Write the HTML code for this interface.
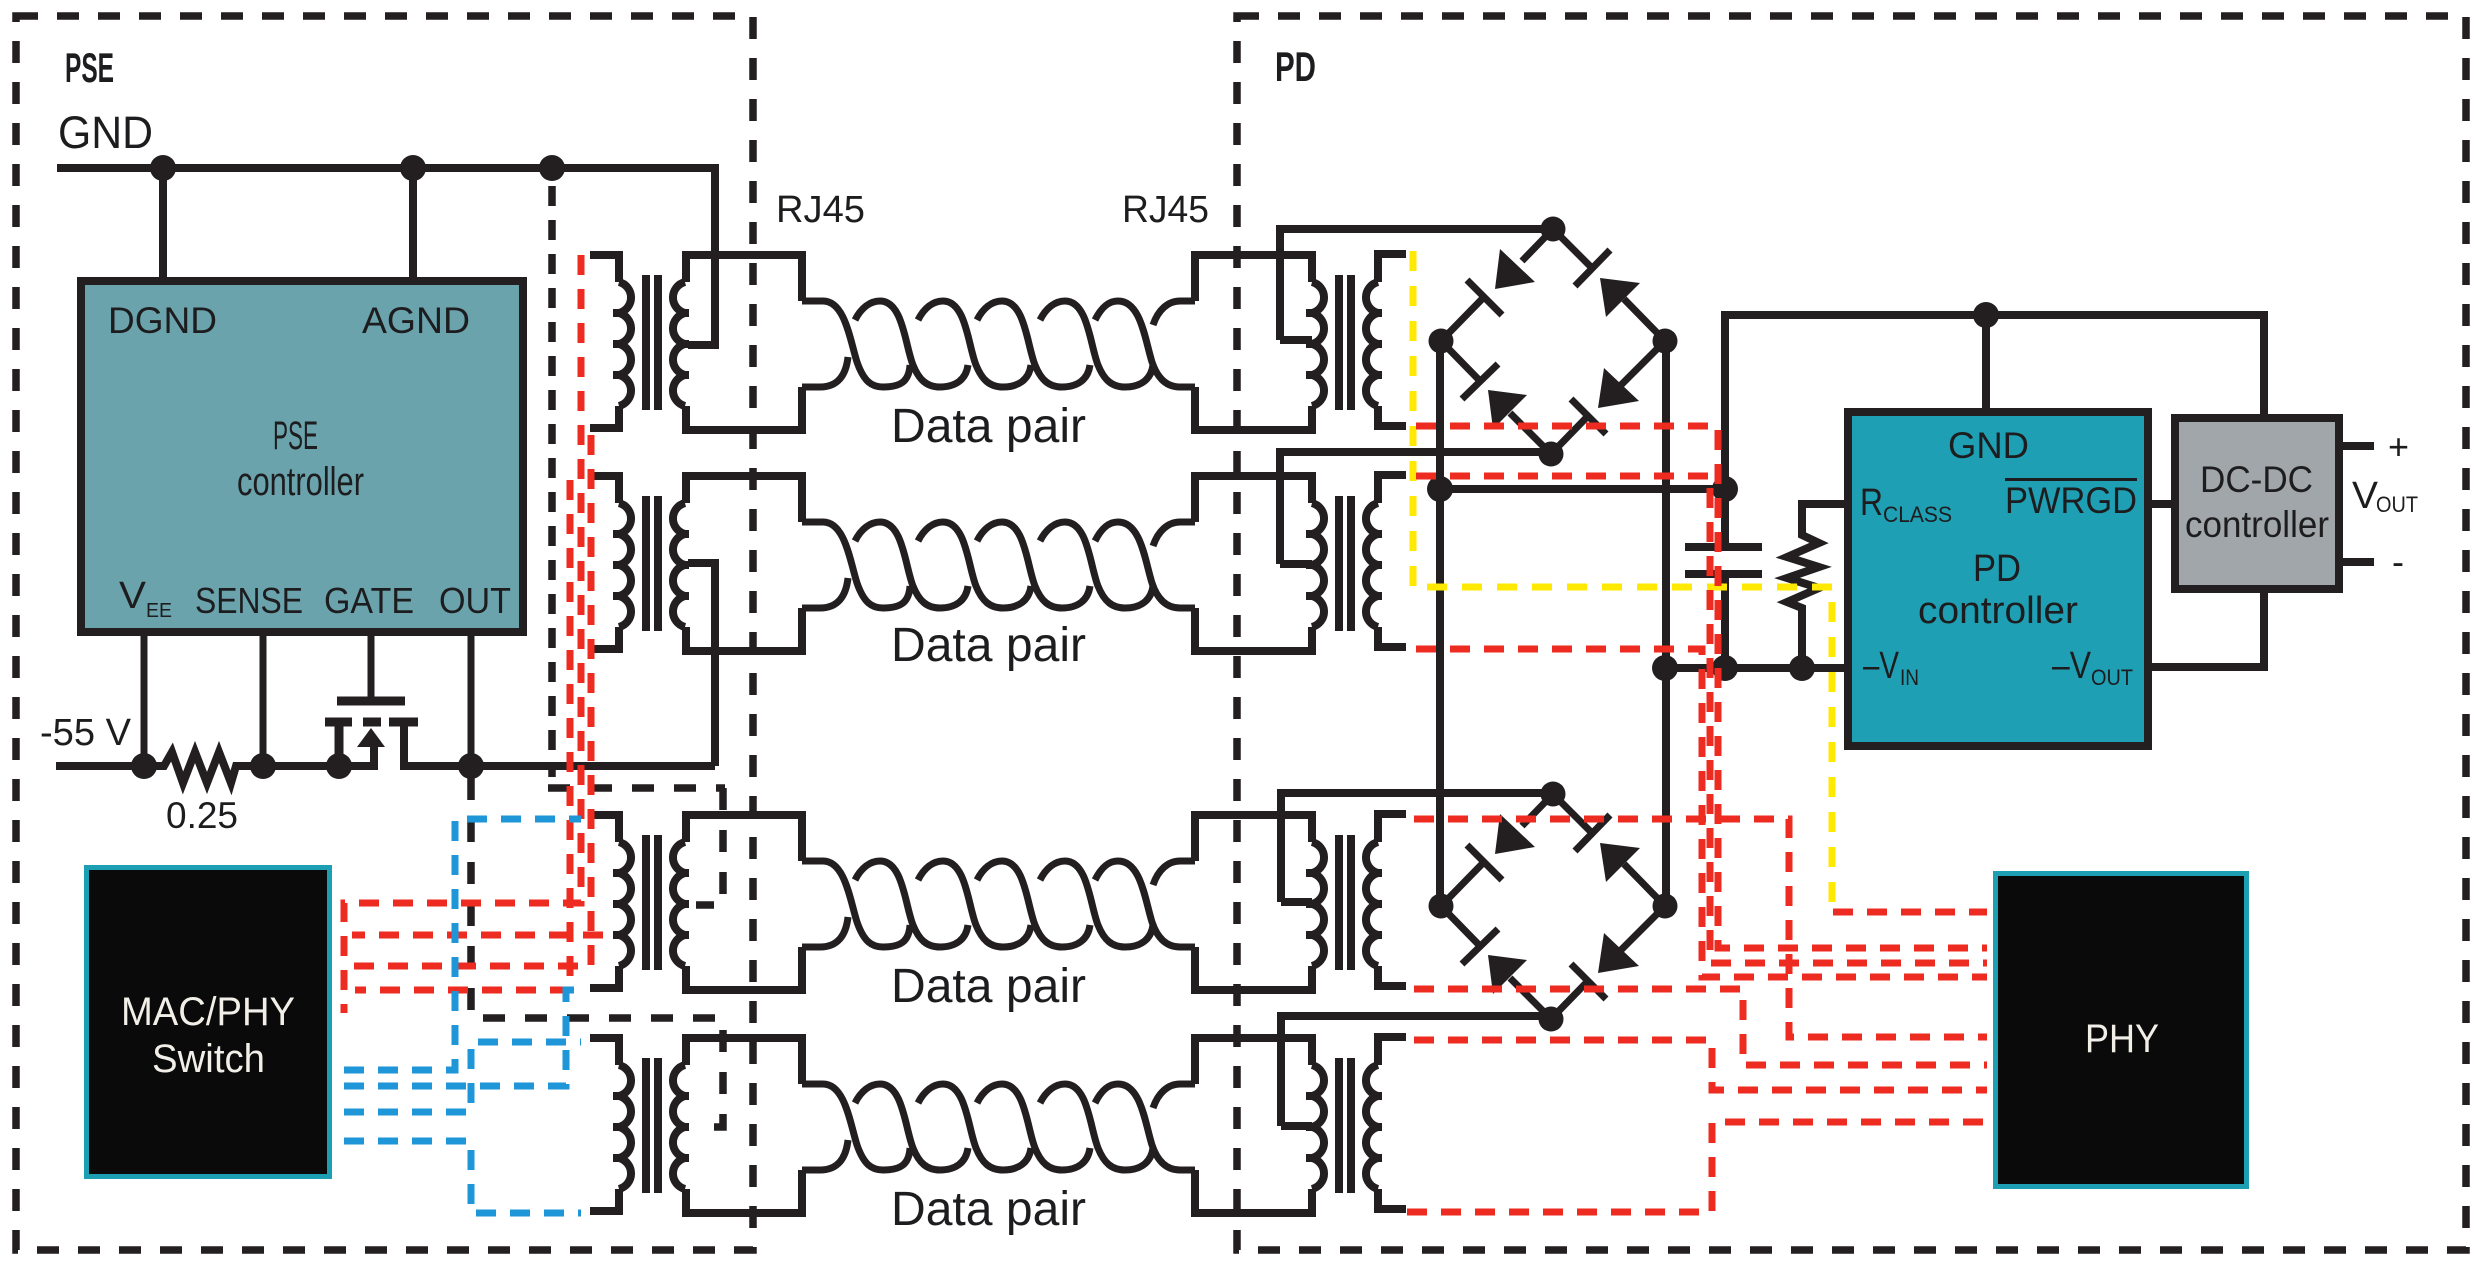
<!DOCTYPE html>
<html><head><meta charset="utf-8"><style>
html,body{margin:0;padding:0;background:#fff;width:2480px;height:1269px;overflow:hidden}
svg{display:block}
text{font-family:"Liberation Sans",sans-serif;fill:#1d1d1f}
.k{fill:none;stroke:#231f20;stroke-width:8}
.t{fill:none;stroke:#231f20;stroke-width:7}
.b{fill:none;stroke:#231f20;stroke-width:7.5;stroke-dasharray:22 19}
.d{fill:none;stroke:#231f20;stroke-width:7.5;stroke-dasharray:22 20}
.d2{fill:none;stroke:#231f20;stroke-width:7.5;stroke-dasharray:20 14}
.r{fill:none;stroke:#ee2b20;stroke-width:7;stroke-dasharray:20 14}
.u{fill:none;stroke:#1e96d8;stroke-width:7;stroke-dasharray:20 14}
.y{fill:none;stroke:#ffe900;stroke-width:7;stroke-dasharray:20 15}
</style></head><body>
<svg xmlns="http://www.w3.org/2000/svg" width="2480" height="1269" viewBox="0 0 2480 1269">
<defs>
<g id="core" class="k">
<path d="M0,5A16,16 0 0 1 0,36A16,16 0 0 1 0,67A16,16 0 0 1 0,98A16,16 0 0 1 0,129"/>
<path d="M66,5A16,16 0 0 0 66,36A16,16 0 0 0 66,67A16,16 0 0 0 66,98A16,16 0 0 0 66,129"/>
<path d="M-6,36H4M-6,67H4M-6,98H4M62,36H70M62,67H70M62,98H70"/>
<path d="M27,-2V133M39,-2V133"/>
</g>
<g id="row" class="k">
<use href="#core" x="619" y="277"/>
<path d="M590,255H619V282M619,406V428H590"/>
<path d="M686,282V255H802V301M686,406V430H802V387"/>
<use href="#core" x="1312" y="277"/>
<path d="M1312,282V255H1195V301M1312,406V430H1195V387"/>
<path d="M1378,282V254H1406M1378,406V426H1406"/>
<g stroke-width="7">
<path d="M802,301H823C845,301 850,340 857,362C864,382 872,387 883,387C900,387 909,382 910,365"/>
<path id="s" d="M855,320C861,308 870,301 880,301C903,301 905,345 913,365C919,380 927,387 940,387C955,387 966,380 968,365"/>
<use href="#s" x="63"/><use href="#s" x="122"/><use href="#s" x="185"/>
<path d="M1095,320C1101,308 1108,301 1118,301C1141,301 1145,340 1152,362C1158,380 1168,387 1180,387H1195"/>
<path d="M802,387H820C838,387 846,375 848,357"/>
<path d="M1153,325C1158,310 1168,301 1180,301H1195"/>
</g>
</g>
<g id="bridge">
<g class="t">
<path d="M1553,229L1522,261M1467,280L1502,315M1484,297L1441,341"/>
<path d="M1553,229L1592,268M1575,286L1610,250M1624,299L1665,341"/>
<path d="M1441,341L1480,381M1462,399L1498,364M1510,413L1551,454"/>
<path d="M1665,341L1620,386M1571,399L1606,434M1586,418L1551,454"/>
</g>
<g fill="#231f20">
<polygon points="1500,249 1535,282 1495,289"/>
<polygon points="1600,278 1640,283 1606,317"/>
<polygon points="1488,390 1527,395 1493,429"/>
<polygon points="1604,368 1639,401 1598,408"/>
<circle cx="1553" cy="229" r="12.500"/><circle cx="1441" cy="341" r="12.500"/><circle cx="1665" cy="341" r="12.500"/><circle cx="1551" cy="454" r="12.500"/>
</g>
</g>
</defs>
<rect width="2480" height="1269" fill="#fff"/>

<rect x="16" y="16" width="737" height="1234" class="b"/>
<rect x="1237" y="16" width="1229" height="1234" class="b"/>

<use href="#row"/>
<use href="#row" y="221"/>
<use href="#row" y="560"/>
<use href="#row" y="783"/>

<g class="k">
<path d="M57,168H715V345H688"/>
<path d="M163,168V281M413,168V281"/>
<path d="M688,563H715V766"/>
<path d="M56,766H164L172,752L183,783L195,752L207,783L219,752L231,783L236,766H374V747"/>
<path d="M404,722V766H715"/>
<path d="M325,722H352M339,722V766M363,722H381M389,722H418M337,701H405" stroke-width="9"/>
</g>
<path d="M144,636V766M263,636V766M371,636V701M471,636V766" class="t"/>
<polygon points="371,728 357,747 385,747" fill="#231f20"/>
<rect x="81" y="281" width="442" height="351" fill="#6ba3ad" stroke="#231f20" stroke-width="8"/>
<g fill="#231f20">
<circle cx="163" cy="168" r="13"/><circle cx="413" cy="168" r="13"/><circle cx="552" cy="168" r="13"/>
<circle cx="144" cy="766" r="13"/><circle cx="263" cy="766" r="13"/><circle cx="339" cy="766" r="13"/><circle cx="471" cy="766" r="13"/>
</g>
<path d="M552,186V777" class="d2"/>
<path d="M548,788H725M723,788V905H696" class="d"/>
<path d="M471,778V1018H723V1127H696" class="d"/>

<rect x="86.500" y="867.500" width="243" height="309" fill="#0a0a0a" stroke="#1d9fb3" stroke-width="5"/>

<g class="r">
<path d="M581,255V903H344V1013"/>
<path d="M591,435V966H350"/>
<path d="M570,480V990H355"/>
<path d="M603,935H352"/>
</g>
<g class="u">
<path d="M344,1070H455V819H581"/>
<path d="M344,1086H566V990H581"/>
<path d="M344,1112H471V1042H581"/>
<path d="M344,1141H471V1213H581"/>
</g>

<g class="k">
<path d="M1280,340V229H1553"/><path d="M1280,340H1312"/>
<path d="M1280,564V452H1551"/><path d="M1280,564H1312"/>
<path d="M1281,902V793H1553"/><path d="M1281,902H1312"/>
<path d="M1281,1126V1016H1551"/><path d="M1281,1126H1312"/>
<path d="M1440,341V907M1666,341V907"/>
<path d="M1440,489H1725"/>
<path d="M1725,547V315H2264V418"/>
<path d="M1725,574V668"/>
<path d="M1665,668H1848"/>
<path d="M1986,315V412"/>
<path d="M1848,504H1802V535L1819,543L1787,557L1819,567L1787,578L1819,588L1787,602L1802,608V668"/>
<path d="M2148,504H2175"/>
<path d="M2148,667H2264V589"/>
<path d="M2339,446H2374M2339,562H2374"/>
<path d="M1685,547H1762M1685,574H1762"/>
</g>
<use href="#bridge"/>
<use href="#bridge" y="565"/>
<g fill="#231f20">
<circle cx="1440" cy="489" r="13"/><circle cx="1725" cy="489" r="13"/>
<circle cx="1665" cy="668" r="13"/><circle cx="1725" cy="668" r="13"/><circle cx="1802" cy="668" r="13"/>
<circle cx="1986" cy="315" r="13"/>
</g>
<rect x="1848" y="412" width="300" height="334" fill="#1f9fb3" stroke="#231f20" stroke-width="8"/>
<rect x="2175" y="418" width="164" height="171" fill="#a0a6aa" stroke="#231f20" stroke-width="8"/>
<rect x="1995.500" y="873.500" width="251" height="313" fill="#0a0a0a" stroke="#1d9fb3" stroke-width="5"/>

<path d="M1413,251V587H1832V905" class="y"/>
<g class="r">
<path d="M1416,426H1718V948H1987"/>
<path d="M1416,476H1710V963H1987"/>
<path d="M1416,649H1702V977H1987"/>
<path d="M1414,819H1789V1037H1987"/>
<path d="M1414,989H1743V1065H1987"/>
<path d="M1414,1040H1712V1090H1987"/>
<path d="M1407,1212H1712V1122H1987"/>
<path d="M1833,912H1987"/>
</g>

<text x="65" y="82" font-size="42" font-weight="bold" textLength="49" lengthAdjust="spacingAndGlyphs">PSE</text>
<text x="1275" y="81" font-size="42" font-weight="bold" textLength="41" lengthAdjust="spacingAndGlyphs">PD</text>
<text x="58" y="148" font-size="45" textLength="95" lengthAdjust="spacingAndGlyphs">GND</text>
<text x="776" y="222" font-size="38" textLength="89" lengthAdjust="spacingAndGlyphs">RJ45</text>
<text x="1122" y="222" font-size="38" textLength="87" lengthAdjust="spacingAndGlyphs">RJ45</text>
<text x="108" y="333" font-size="37" textLength="109" lengthAdjust="spacingAndGlyphs">DGND</text>
<text x="362" y="333" font-size="37" textLength="108" lengthAdjust="spacingAndGlyphs">AGND</text>
<text x="273" y="449" font-size="40" textLength="45" lengthAdjust="spacingAndGlyphs">PSE</text>
<text x="237" y="495" font-size="40" textLength="127" lengthAdjust="spacingAndGlyphs">controller</text>
<text x="119" y="608" font-size="38" textLength="27" lengthAdjust="spacingAndGlyphs">V</text>
<text x="146" y="617" font-size="20" textLength="26" lengthAdjust="spacingAndGlyphs">EE</text>
<text x="195" y="613" font-size="36" textLength="108" lengthAdjust="spacingAndGlyphs">SENSE</text>
<text x="324" y="613" font-size="36" textLength="90" lengthAdjust="spacingAndGlyphs">GATE</text>
<text x="439" y="613" font-size="36" textLength="72" lengthAdjust="spacingAndGlyphs">OUT</text>
<text x="40" y="745" font-size="38" textLength="91" lengthAdjust="spacingAndGlyphs">-55 V</text>
<text x="166" y="828" font-size="37" textLength="72" lengthAdjust="spacingAndGlyphs">0.25</text>
<text x="121" y="1025" font-size="40" textLength="174" lengthAdjust="spacingAndGlyphs" style="fill:#f2efe8">MAC/PHY</text>
<text x="152" y="1072" font-size="40" textLength="113" lengthAdjust="spacingAndGlyphs" style="fill:#f2efe8">Switch</text>
<text x="891" y="442" font-size="48" textLength="195" lengthAdjust="spacingAndGlyphs">Data pair</text>
<text x="891" y="661" font-size="48" textLength="195" lengthAdjust="spacingAndGlyphs">Data pair</text>
<text x="891" y="1002" font-size="48" textLength="195" lengthAdjust="spacingAndGlyphs">Data pair</text>
<text x="891" y="1225" font-size="48" textLength="195" lengthAdjust="spacingAndGlyphs">Data pair</text>

<text x="1948" y="458" font-size="37" textLength="81" lengthAdjust="spacingAndGlyphs">GND</text>
<rect x="2005" y="478" width="132" height="3" fill="#1d1d1f"/>
<text x="2005" y="513" font-size="37" textLength="132" lengthAdjust="spacingAndGlyphs">PWRGD</text>
<text x="1860" y="515" font-size="38" textLength="23" lengthAdjust="spacingAndGlyphs">R</text>
<text x="1883" y="522" font-size="22" textLength="69" lengthAdjust="spacingAndGlyphs">CLASS</text>
<text x="1973" y="581" font-size="38" textLength="48" lengthAdjust="spacingAndGlyphs">PD</text>
<text x="1918" y="623" font-size="38" textLength="160" lengthAdjust="spacingAndGlyphs">controller</text>
<text x="1863" y="678" font-size="38" textLength="36" lengthAdjust="spacingAndGlyphs">–V</text>
<text x="1900" y="685" font-size="22" textLength="19" lengthAdjust="spacingAndGlyphs">IN</text>
<text x="2052" y="678" font-size="38" textLength="39" lengthAdjust="spacingAndGlyphs">–V</text>
<text x="2091" y="685" font-size="22" textLength="42" lengthAdjust="spacingAndGlyphs">OUT</text>
<text x="2200" y="492" font-size="37" textLength="113" lengthAdjust="spacingAndGlyphs">DC-DC</text>
<text x="2185" y="537" font-size="37" textLength="144" lengthAdjust="spacingAndGlyphs">controller</text>
<text x="2352" y="508" font-size="38" textLength="26" lengthAdjust="spacingAndGlyphs">V</text>
<text x="2376" y="512" font-size="22" textLength="42" lengthAdjust="spacingAndGlyphs">OUT</text>
<text x="2388" y="459" font-size="36">+</text>
<text x="2392" y="574" font-size="36">-</text>
<text x="2085" y="1052" font-size="40" textLength="74" lengthAdjust="spacingAndGlyphs" style="fill:#f2efe8">PHY</text>
</svg>
</body></html>
